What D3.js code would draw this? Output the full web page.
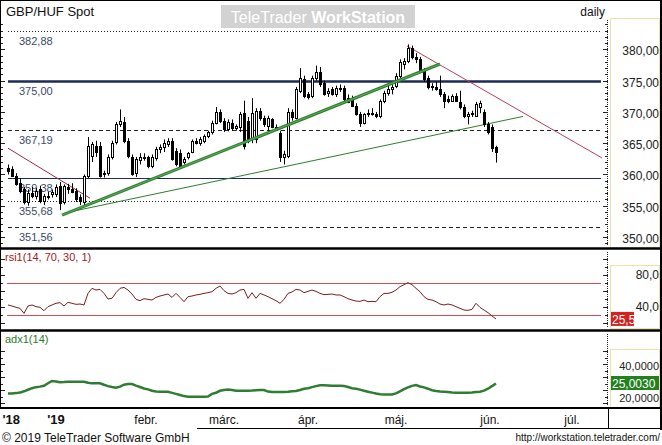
<!DOCTYPE html>
<html>
<head>
<meta charset="utf-8">
<script src="https://cdn.jsdelivr.net/npm/d3@7"></script>
<style>
body { margin: 0; background: #fff; }
svg { display: block; font-family: "Liberation Sans", Arial, sans-serif; }
</style>
</head>
<body>
<svg id="vis" width="662" height="445"></svg>
<script>
// daily candles, mid-Dec 2018 .. 5 Jun 2019 (trading-day index)
var opens  = [361.0,360.8,359.8,358.6,357.6,355.6,357.0,356.6,357.6,355.8,356.4,356.8,356.8,358.2,355.6,358.0,357.6,357.4,356.4,355.6,
              359.8,363.0,364.6,364.5,360.0,360.2,362.8,365.2,368.0,368.4,365.4,362.8,360.2,362.3,362.8,362.8,361.4,362.6,364.0,364.4,
              364.8,365.4,363.8,363.4,362.0,362.8,363.6,365.3,365.0,365.4,366.2,366.8,368.2,370.0,368.6,367.2,368.2,367.4,367.6,369.8,
              368.6,365.6,365.6,370.2,369.0,367.8,368.8,367.6,366.6,362.8,363.0,370.0,369.0,373.4,375.2,372.8,372.6,375.4,376.4,374.6,
              373.0,373.6,372.8,373.8,373.8,372.2,372.2,371.0,369.6,368.2,369.6,369.8,369.6,369.4,371.8,373.0,373.6,374.2,375.8,377.6,
              378.2,380.2,378.8,378.4,376.6,375.4,374.0,374.0,373.6,372.8,372.0,371.8,372.6,371.6,370.8,369.4,369.6,369.4,370.8,370.0,
              368.0,367.6,364.4];
var highs  = [361.6,361.3,360.2,359.4,358.0,357.6,358.0,357.8,358.2,356.9,357.2,357.6,358.4,358.8,358.4,358.5,358.6,357.8,356.8,360.0,
              366.0,365.2,365.4,365.2,360.6,363.2,365.4,368.4,370.4,369.2,365.8,363.2,362.8,363.4,363.4,363.0,363.2,364.4,364.8,365.6,
              365.8,365.8,364.2,364.0,362.8,363.6,365.6,365.8,366.0,366.4,367.0,368.6,370.8,370.4,369.0,368.8,368.8,368.0,370.0,371.8,
              369.2,372.2,370.6,370.6,369.4,369.4,369.0,368.0,367.0,363.8,370.6,370.4,374.0,377.0,375.8,373.2,375.8,377.4,377.2,375.0,
              373.8,374.0,374.2,374.4,374.2,372.8,372.6,371.4,370.0,369.8,370.4,370.6,370.0,372.0,373.4,374.2,374.4,376.2,378.4,378.6,
              380.8,380.6,379.4,378.8,377.0,375.8,374.6,374.8,375.8,373.2,372.6,372.8,373.0,373.4,371.2,370.0,370.2,371.6,371.8,370.4,
              368.4,368.0,364.6];
var lows   = [360.0,359.6,358.2,357.0,355.2,355.0,356.2,356.0,355.4,355.1,356.0,356.3,356.4,354.3,355.2,356.9,357.0,355.6,355.1,355.0,
              359.4,362.0,362.8,359.5,359.5,359.8,362.4,364.8,367.6,365.0,362.6,359.8,359.6,361.6,362.2,361.0,361.0,362.2,363.4,363.6,
              364.4,362.2,361.3,361.0,361.6,362.4,363.4,364.8,364.6,365.0,365.8,366.4,368.0,368.2,366.8,366.9,367.0,367.0,366.8,364.0,
              365.0,365.0,365.0,368.6,367.6,367.0,367.4,367.0,362.0,361.6,362.6,368.6,368.8,373.0,372.2,372.0,372.2,375.0,374.0,372.6,
              372.4,372.6,372.4,373.2,371.6,371.4,370.8,369.4,367.6,368.0,369.2,369.4,369.0,369.0,371.4,372.6,372.8,373.8,375.4,376.8,
              377.8,378.4,377.8,376.2,374.8,373.6,373.4,373.4,372.4,370.6,371.4,371.6,371.6,370.4,369.0,368.0,369.2,369.2,369.8,367.6,
              366.4,363.6,361.9];
var closes = [360.6,359.8,358.5,357.4,355.6,357.0,356.6,357.4,355.8,356.5,356.6,357.2,358.0,355.5,358.1,357.6,357.2,356.0,355.7,359.8,
              364.6,364.8,363.6,359.8,360.2,362.8,365.1,368.1,368.6,365.3,362.9,360.1,362.4,362.8,362.6,361.4,362.8,364.1,364.4,365.0,
              365.4,362.4,361.6,361.4,362.4,363.4,365.3,365.0,365.6,366.2,366.8,368.2,370.0,368.6,367.2,368.4,367.4,367.8,369.6,364.6,
              365.6,369.8,370.2,369.0,368.0,369.0,367.6,367.4,362.8,363.2,370.0,369.2,373.6,375.4,372.6,372.4,375.4,376.4,374.4,372.9,
              373.4,372.8,373.8,373.6,372.0,371.6,371.0,369.6,368.2,369.6,369.8,369.6,369.4,371.8,373.0,373.6,374.0,375.8,378.0,378.2,
              380.2,378.8,378.4,376.6,375.2,374.0,374.2,373.6,372.8,371.8,371.8,372.6,371.8,370.8,369.4,369.6,369.8,371.2,371.4,368.0,
              366.8,364.2,363.6];

var rsiValues = [42.9,41.6,40.0,38.7,32.4,41.6,42.9,40.8,40.0,35.8,40.8,42.9,45.0,45.8,41.6,46.2,45.0,43.7,44.1,42.9,
                 57.4,63.7,61.6,62.4,57.4,50.4,51.2,58.3,63.7,64.9,61.6,56.6,49.9,48.3,50.8,49.9,49.1,52.4,54.1,55.4,
                 56.6,52.4,57.4,52.4,47.0,53.3,54.1,55.4,56.2,57.4,58.3,59.5,63.7,66.6,60.8,57.4,56.6,58.3,61.6,62.4,
                 51.2,58.3,51.2,57.4,55.4,53.3,50.8,48.3,45.0,49.9,57.4,59.1,62.4,61.6,58.3,59.9,61.6,59.9,57.4,55.8,
                 56.2,56.6,55.4,55.4,53.3,50.8,49.1,47.8,47.4,49.1,47.0,47.4,47.0,53.3,57.4,57.4,58.7,61.6,65.8,68.3,
                 70.8,68.3,63.7,59.5,53.3,49.9,49.1,47.0,44.1,42.9,44.1,42.9,40.8,38.7,36.6,36.2,37.4,45.0,39.9,36.6,
                 33.3,29.1,25.5];
var adxValues = [17.4,17.4,17.6,18.0,19.0,20.2,21.4,22.2,22.6,23.3,25.2,26.9,26.6,25.9,26.1,26.4,26.4,26.4,26.4,26.4,
                 25.6,25.1,25.1,25.1,24.0,23.0,22.3,21.8,22.6,24.1,24.6,24.6,23.4,22.3,21.2,20.5,19.4,18.8,18.7,18.7,
                 18.6,17.8,17.0,16.2,15.3,14.9,14.9,14.9,14.9,14.9,15.0,17.0,17.9,19.4,20.0,20.4,20.0,19.5,19.5,19.5,
                 19.5,19.6,19.8,20.0,20.0,18.8,18.5,18.5,18.5,18.5,18.6,19.0,19.3,20.0,20.9,21.4,22.2,23.0,23.7,23.6,
                 23.5,23.3,23.3,23.2,23.1,22.3,21.4,21.0,20.3,19.4,18.7,18.0,17.3,16.7,16.6,16.6,16.6,17.4,19.0,20.6,
                 22.0,23.2,23.8,22.7,22.0,21.0,19.8,19.3,18.9,18.7,18.4,18.0,17.9,17.9,17.9,17.9,18.1,18.4,18.7,19.5,
                 21.0,23.0,25.0];

var priceTicks = [350, 355, 360, 365, 370, 375, 380];
var levelValues = [382.88, 375.00, 367.19, 359.38, 355.68, 351.56];
var rsiLevels = [70, 30];
var rsiTicks = [40, 80];
var adxTicks = [20, 40];
var rsiLast = 25.5;
var adxLast = 25.003;

var monthLabels = ["'18", "'19", "febr.", "márc.", "ápr.", "máj.", "jún.", "júl."];
var monthIndex  = [0.8, 12, 34.5, 54, 75, 97, 120.5, 141];

// trendlines as [index, price]
var greenThick = [[13.5, 353.5], [108, 377.65]];
var greenThin  = [[14.25, 353.85], [128.75, 369.28]];
var redLeft    = [[0, 364.2], [20.5, 356.2]];
var redRight   = [[99.75, 380.55], [148.5, 362.64]];

var svg = d3.select("#vis");
var comma = function(f) { return function(v) { return d3.format(f)(v).replace(".", ","); }; };

var x = d3.scaleLinear().domain([0, 122]).range([8, 496]);
var yP = d3.scaleLinear().domain([350, 380]).range([237, 49.4]);
var yR = d3.scaleLinear().domain([30, 70]).range([315.3, 283.3]);
var yA = d3.scaleLinear().domain([20, 40]).range([390, 364]);

var panels = {
    main: {top: 19, bottom: 247},
    rsi: {top: 250, bottom: 329},
    adx: {top: 332, bottom: 407}
};

// clip paths
var defs = svg.append("defs");
Object.keys(panels).forEach(function(k) {
    defs.append("clipPath").attr("id", "clip-" + k)
        .append("rect")
        .attr("x", 7).attr("y", panels[k].top)
        .attr("width", 598).attr("height", panels[k].bottom - panels[k].top);
});

// header
svg.append("text").attr("x", 6).attr("y", 16).attr("font-size", 13).attr("fill", "#111").text("GBP/HUF Spot");
svg.append("text").attr("x", 605).attr("y", 16).attr("font-size", 12).attr("fill", "#111")
    .attr("text-anchor", "end").text("daily");
svg.append("rect").attr("x", 221).attr("y", 5).attr("width", 194).attr("height", 23).attr("fill", "#d2d2d2");
var wm = svg.append("text").attr("x", 318).attr("y", 23).attr("text-anchor", "middle")
    .attr("font-size", 16).attr("fill", "#fff");
wm.append("tspan").text("TeleTrader ");
wm.append("tspan").attr("font-weight", "bold").text("WorkStation");

// axis tick columns (left edge and right dotted axis)
var tickColumn = function(scale, lo, hi, step, major, top, bottom) {
    var g = svg.append("g").attr("stroke", "#222").attr("stroke-width", 1);
    g.append("line").attr("x1", 607.5).attr("x2", 607.5).attr("y1", top).attr("y2", bottom)
        .attr("stroke-dasharray", "1,1");
    d3.range(lo, hi + 0.001, step).forEach(function(v) {
        var yy = Math.round(scale(v)) + 0.5;
        if (yy < top || yy > bottom) return;
        var big = Math.abs(v / major - Math.round(v / major)) < 0.001;
        g.append("line").attr("x1", 0).attr("x2", big ? 5 : 3).attr("y1", yy).attr("y2", yy);
        g.append("line").attr("x1", big ? 603 : 605).attr("x2", 608).attr("y1", yy).attr("y2", yy);
    });
};
tickColumn(yP, 346, 386, 1, 5, 20, 246);
tickColumn(yR, 0, 100, 10, 20, 252, 328);
tickColumn(yA, 5, 50, 5, 10, 334, 406);

// ---------- main panel ----------
var mainG = svg.append("g").attr("clip-path", "url(#clip-main)");

var levelStyle = [
    {dash: "1,2", color: "#222", w: 1},
    {dash: null, color: "#1c2a56", w: 2.5},
    {dash: "4,3", color: "#222", w: 1},
    {dash: null, color: "#1c2a56", w: 1},
    {dash: "1,2", color: "#222", w: 1},
    {dash: "4,3", color: "#222", w: 1}
];
levelValues.forEach(function(v, i) {
    var yy = Math.round(yP(v)) + 0.5;
    mainG.append("line").attr("x1", 8).attr("x2", 601).attr("y1", yy).attr("y2", yy)
        .attr("stroke", levelStyle[i].color).attr("stroke-width", levelStyle[i].w)
        .attr("stroke-dasharray", levelStyle[i].dash);
    mainG.append("text").attr("x", 19).attr("y", yy + 13).attr("font-size", 11)
        .attr("fill", "#3b4a6b").text(comma(".2f")(v));
});

var trend = function(pts, color, w) {
    mainG.append("line")
        .attr("x1", x(pts[0][0])).attr("y1", yP(pts[0][1]))
        .attr("x2", x(pts[1][0])).attr("y2", yP(pts[1][1]))
        .attr("stroke", color).attr("stroke-width", w);
};
trend(redLeft, "#9a3040", 1);
trend(redRight, "#b8405a", 1);
trend(greenThin, "#2e7d2e", 1);

// candles
var candles = mainG.append("g");
opens.forEach(function(o, i) {
    var c = closes[i];
    var xc = Math.round(x(i));
    var up = c >= o;
    candles.append("line")
        .attr("x1", xc + 0.5).attr("x2", xc + 0.5)
        .attr("y1", yP(highs[i])).attr("y2", yP(lows[i]))
        .attr("stroke", "#000").attr("stroke-width", 1);
    var top = Math.round(yP(Math.max(o, c)));
    var h = Math.max(1, Math.round(yP(Math.min(o, c))) - top);
    candles.append("rect")
        .attr("x", xc - 0.5).attr("y", top + 0.5)
        .attr("width", 2).attr("height", h)
        .attr("fill", up ? "#fff" : "#000")
        .attr("stroke", "#000").attr("stroke-width", 1);
});

trend(greenThick, "#2f7f2f", 3.2);
trend(greenThick, "#5aae5a", 1);

// ---------- RSI panel ----------
var rsiG = svg.append("g").attr("clip-path", "url(#clip-rsi)");
rsiLevels.forEach(function(v) {
    var yy = Math.round(yR(v)) + 0.5;
    rsiG.append("line").attr("x1", 7).attr("x2", 601).attr("y1", yy).attr("y2", yy)
        .attr("stroke", "#d05050").attr("stroke-width", 1);
});
rsiG.append("path")
    .datum(rsiValues)
    .attr("fill", "none").attr("stroke", "#7a1f1f").attr("stroke-width", 1)
    .attr("d", d3.line().x(function(d, i) { return x(i); }).y(function(d) { return yR(d); }));
svg.append("text").attr("x", 5).attr("y", 261).attr("font-size", 11).attr("fill", "#a02020")
    .text("rsi1(14, 70, 30, 1)");

// ---------- ADX panel ----------
var adxG = svg.append("g").attr("clip-path", "url(#clip-adx)");
adxG.append("path")
    .datum(adxValues)
    .attr("fill", "none").attr("stroke", "#2e7d32").attr("stroke-width", 2.5)
    .attr("d", d3.line().x(function(d, i) { return x(i); }).y(function(d) { return yA(d); }));
svg.append("text").attr("x", 5).attr("y", 343).attr("font-size", 11).attr("fill", "#2a7a2a")
    .text("adx1(14)");

// ---------- right scale boxes ----------
var box = function(top, bottom) {
    svg.append("rect").attr("x", 610.5).attr("y", top + 0.5).attr("width", 49).attr("height", bottom - top)
        .attr("fill", "#fff").attr("stroke", "#efe2a8").attr("stroke-width", 1);
};
box(18, 247);
box(265, 328);
box(349, 407);

priceTicks.forEach(function(v) {
    svg.append("text").attr("x", 659).attr("y", yP(v) + 6).attr("text-anchor", "end")
        .attr("font-size", 12).attr("fill", "#222").text(comma(".2f")(v));
});
rsiTicks.forEach(function(v) {
    svg.append("text").attr("x", 659).attr("y", yR(v) + 4).attr("text-anchor", "end")
        .attr("font-size", 12).attr("fill", "#222").text(comma(".1f")(v));
});
adxTicks.forEach(function(v) {
    // lower label pushed just below the last-value tag so both stay readable
    svg.append("text").attr("x", 659).attr("y", yA(v) + (v === 20 ? 12 : 6)).attr("text-anchor", "end")
        .attr("font-size", 11).attr("fill", "#222").text(comma(".4f")(v));
});

// last value tags
svg.append("rect").attr("x", 611).attr("y", yR(rsiLast) - 7).attr("width", 23).attr("height", 14).attr("fill", "#d42121");
svg.append("text").attr("x", 612).attr("y", yR(rsiLast) + 5).attr("font-size", 12).attr("fill", "#fff")
    .text(comma(".1f")(rsiLast));
svg.append("rect").attr("x", 611).attr("y", yA(adxLast) - 7.5).attr("width", 48).attr("height", 14).attr("fill", "#23801f");
svg.append("text").attr("x", 612).attr("y", yA(adxLast) + 4.5).attr("font-size", 12).attr("fill", "#fff")
    .text(comma(".4f")(adxLast));

// ---------- frame and separators ----------
var frame = svg.append("g").attr("stroke", "#000");
frame.append("line").attr("x1", 0.5).attr("x2", 0.5).attr("y1", 0).attr("y2", 408).attr("stroke-width", 1);
frame.append("line").attr("x1", 0).attr("x2", 662).attr("y1", 0.5).attr("y2", 0.5).attr("stroke-width", 1);
frame.append("line").attr("x1", 661).attr("x2", 661).attr("y1", 0).attr("y2", 430).attr("stroke-width", 2);
frame.append("line").attr("x1", 0).attr("x2", 662).attr("y1", 248.5).attr("y2", 248.5).attr("stroke-width", 2.5);
frame.append("line").attr("x1", 0).attr("x2", 662).attr("y1", 330.5).attr("y2", 330.5).attr("stroke-width", 2.5);
frame.append("line").attr("x1", 0).attr("x2", 662).attr("y1", 408).attr("y2", 408).attr("stroke-width", 2);
frame.append("line").attr("x1", 608.5).attr("x2", 608.5).attr("y1", 408).attr("y2", 428).attr("stroke-width", 1);
frame.append("line").attr("x1", 197).attr("x2", 662).attr("y1", 428.5).attr("y2", 428.5).attr("stroke-width", 1);

// ---------- date axis ----------
monthLabels.forEach(function(m, i) {
    var bold = m.charAt(0) === "'";
    svg.append("text").attr("x", x(monthIndex[i])).attr("y", 424)
        .attr("text-anchor", "middle")
        .attr("font-size", bold ? 13 : 12)
        .attr("font-weight", bold ? "bold" : "normal")
        .attr("fill", "#111").text(m);
});

// footer
svg.append("text").attr("x", 2).attr("y", 442).attr("font-size", 12).attr("fill", "#111")
    .text("© 2019 TeleTrader Software GmbH");
svg.append("text").attr("x", 660).attr("y", 441).attr("font-size", 10).attr("fill", "#111")
    .attr("text-anchor", "end").text("http://workstation.teletrader.com/");
</script>
</body>
</html>
